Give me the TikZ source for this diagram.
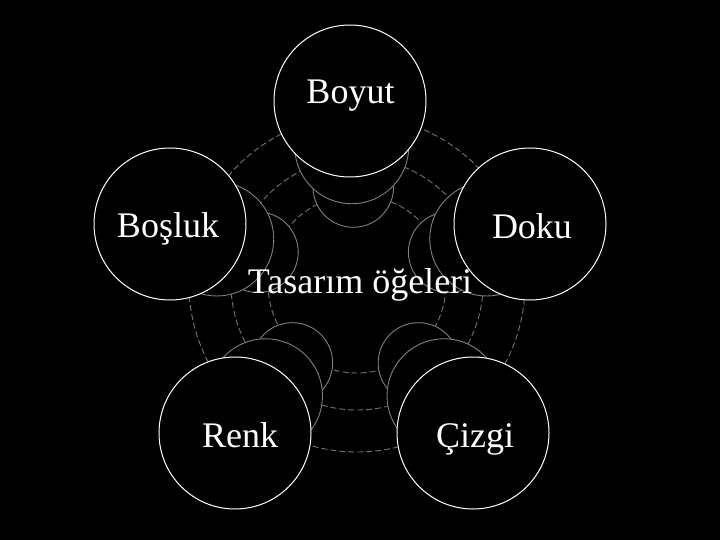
\documentclass[tikz,border=0pt]{standalone}
\usepackage{fontspec}
\setmainfont{Liberation Serif}
\begin{document}
\begin{tikzpicture}[x=1pt,y=-1pt,
  ring/.style={circle,draw=ringgray,line width=0.9pt,dash pattern=on 6pt off 3pt,inner sep=0pt,outer sep=0pt},
  backc/.style={circle,draw=circgray,fill=black,line width=0.9pt,inner sep=0pt,outer sep=0pt,minimum size=80.6pt},
  midc/.style={circle,draw=circgray,fill=black,line width=0.9pt,inner sep=0pt,outer sep=0pt,minimum size=114pt},
  frontc/.style={circle,draw=white,fill=black,line width=1pt,inner sep=0pt,outer sep=0pt,minimum size=152pt},
  lbl/.style={text=white,anchor=base,inner sep=0pt,font=\fontsize{36}{43}\selectfont}]
\definecolor{ringgray}{HTML}{737373}
\definecolor{circgray}{HTML}{808080}
\useasboundingbox (0,0) rectangle (720,540);
\fill[black] (0,0) rectangle (720,540);
\node[ring,minimum size=336pt] (ringA) at (357,284) {};
\node[ring,minimum size=252pt] (ringB) at (357,284) {};
\node[ring,minimum size=178pt] (ringC) at (357,284) {};
\foreach \n/\x/\y in {boyut/350/101, doku/530/224, cizgi/473/433, renk/235/433, bosluk/170/224} {
  \node[backc] (\n-b) at ({357+0.53*(\x-357)},{284+0.53*(\y-284)}) {};
  \node[midc] (\n-m) at ({357+0.75*(\x-357)},{284+0.75*(\y-284)}) {};
  \node[frontc] (\n) at (\x,\y) {};
}
\node[lbl] (boyutT) at (350.5,104) {Boyut};
\node[lbl] (dokuT) at (532,238) {Doku};
\node[lbl] (cizgiT) at (475,447) {Çizgi};
\node[lbl] (renkT) at (240,447) {Renk};
\node[lbl] (boslukT) at (168,237) {Boşluk};
\node[lbl] (center) at (360,293) {Tasarım öğeleri};
\end{tikzpicture}
\end{document}
